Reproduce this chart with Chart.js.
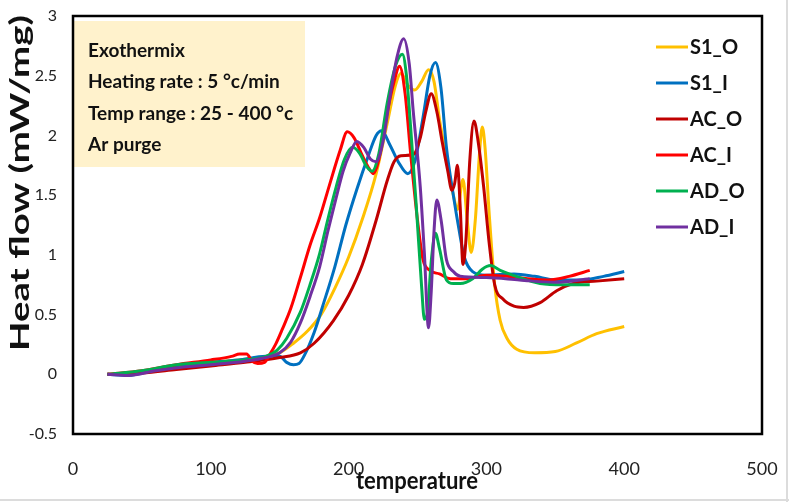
<!DOCTYPE html>
<html>
<head>
<meta charset="utf-8">
<script src="https://cdn.jsdelivr.net/npm/chart.js@4.4.1/dist/chart.umd.min.js"></script>
<style>
  html, body { margin: 0; padding: 0; background: #fff; }
  canvas { display: block; }
</style>
</head>
<body>
<canvas id="c" width="789" height="502"></canvas>
<script>
// ---------------- DATA ----------------
const seriesNames = ['S1_O', 'S1_I', 'AC_O', 'AC_I', 'AD_O', 'AD_I'];

const s1oT = [25,40,60,80,100,120,140,150,160,170,180,190,200,210,220,228,234,238,243,248,253,258,262,266,272,276,279,283,286,289,292,295,297,299,302,306,310,315,322,335,350,365,380,400];
const s1oV = [0,0.01,0.04,0.07,0.1,0.12,0.15,0.18,0.26,0.36,0.5,0.72,0.98,1.3,1.68,2.1,2.42,2.52,2.42,2.38,2.45,2.55,2.45,2.13,1.75,1.5,1.38,1.63,1.3,1.02,1.3,1.85,2.07,1.9,1.35,0.75,0.45,0.3,0.21,0.18,0.19,0.26,0.34,0.40];

const s1iT = [25,40,60,80,100,120,140,150,155,160,164,168,175,182,190,198,206,214,220,224,230,236,243,248,254,259,263,267,271,276,280,284,290,300,320,335,350,370,385,400];
const s1iV = [0,-0.01,0.04,0.08,0.1,0.12,0.15,0.15,0.1,0.08,0.09,0.16,0.35,0.6,0.9,1.25,1.55,1.82,2.0,2.04,1.92,1.78,1.68,1.78,2.15,2.5,2.61,2.4,1.9,1.5,1.22,0.98,0.86,0.83,0.84,0.82,0.79,0.79,0.82,0.86];

const acoT = [25,50,75,100,125,150,165,175,189,200,210,220,228,233,238,247,252,256,260,264,268,272,275,277,279,281,283,285,288,291,294,298,302,306,312,320,327,339,351,363,380,400];
const acoV = [0,0.01,0.04,0.07,0.1,0.14,0.18,0.26,0.45,0.66,0.92,1.29,1.62,1.78,1.83,1.84,1.98,2.2,2.35,2.2,1.94,1.7,1.54,1.6,1.75,1.4,0.92,1.1,1.8,2.12,1.95,1.57,1.1,0.75,0.63,0.57,0.56,0.6,0.7,0.76,0.78,0.8];

const aciT = [25,50,75,100,115,121,126,130,134,139,143,147,152,158,165,172,179,186,194,199,204,210,214,218,222,228,233,237,241,245,250,254,259,266,274,285,300,315,330,345,360,375];
const aciV = [0,0.03,0.08,0.12,0.15,0.17,0.17,0.11,0.09,0.1,0.17,0.25,0.38,0.55,0.81,1.08,1.31,1.58,1.88,2.03,1.98,1.83,1.74,1.68,1.8,2.19,2.45,2.58,2.35,1.85,1.29,0.96,0.87,0.84,0.8,0.8,0.83,0.82,0.8,0.79,0.82,0.87];

const adoT = [25,50,75,100,125,140,148,155,165,172,179,185,191,197,203,208,213,217,222,228,234,239,242,245,249,253,255,257,260,263,266,271,276,281,290,297,303,310,319,339,356,375];
const adoV = [0,0.03,0.08,0.1,0.12,0.15,0.2,0.3,0.52,0.75,1.01,1.3,1.57,1.8,1.9,1.85,1.74,1.7,1.85,2.27,2.58,2.68,2.5,2.07,1.43,0.73,0.46,0.5,0.95,1.18,1.05,0.79,0.76,0.76,0.8,0.88,0.91,0.87,0.83,0.76,0.75,0.75];

const adiT = [25,40,60,80,100,125,140,150,158,165,172,179,185,191,196,201,206,211,216,220,225,230,235,240,244,247,252,255,258,260,262,264,267,271,276,281,300,324,350,375];
const adiV = [0,-0.01,0.03,0.06,0.08,0.11,0.14,0.18,0.27,0.43,0.65,0.9,1.2,1.48,1.7,1.85,1.95,1.9,1.8,1.78,1.95,2.32,2.65,2.81,2.6,2.19,1.57,1.01,0.39,0.7,1.2,1.46,1.3,0.96,0.86,0.82,0.81,0.79,0.77,0.8];

const xTickValues = [0, 100, 200, 300, 400, 500];
const yTickValues = [-0.5, 0, 0.5, 1, 1.5, 2, 2.5, 3];
const yTickLabels = ['-0.5', '0', '0.5', '1', '1.5', '2', '2.5', '3'];
const xTitle = 'temperature';
const yTitle = 'Heat flow (mW/mg)';
const noteLines = ['Exothermix', 'Heating rate : 5 \u00B0c/min', 'Temp range : 25 - 400 \u00B0c', 'Ar purge'];

// ---------------- STYLE ----------------
const seriesColors = ['#FFC000', '#0070C0', '#C00000', '#FF0000', '#00B050', '#7030A0'];
const allT = [s1oT, s1iT, acoT, aciT, adoT, adiT];
const allV = [s1oV, s1iV, acoV, aciV, adoV, adiV];

const datasets = seriesNames.map((name, i) => ({
  label: name,
  data: allT[i].map((t, j) => ({ x: t, y: allV[i][j] })),
  borderColor: seriesColors[i],
  backgroundColor: seriesColors[i],
  borderWidth: 3,
  pointRadius: 0,
  fill: false,
  cubicInterpolationMode: 'monotone',
  order: seriesNames.length - i
}));

function drawStretched(ctx, text, x, y, size, weight, family, targetWidth) {
  ctx.font = weight + ' ' + size + 'px ' + family;
  const w = ctx.measureText(text).width;
  ctx.save();
  ctx.translate(x, y);
  ctx.scale(targetWidth / w, 1);
  ctx.fillText(text, 0, 0);
  ctx.restore();
}

const decor = {
  id: 'decor',
  beforeDatasetsDraw(chart) {
    const ctx = chart.ctx;
    ctx.save();
    ctx.fillStyle = '#FFF2CC';
    ctx.fillRect(74, 21, 231, 146);
    ctx.fillStyle = '#111';
    ctx.textAlign = 'left';
    ctx.textBaseline = 'alphabetic';
    ctx.font = 'bold 19px Lato';
    const baselines = [57, 88, 120, 151];
    noteLines.forEach((t, i) => ctx.fillText(t, 88, baselines[i]));
    ctx.restore();
  },
  afterDraw(chart) {
    const ctx = chart.ctx;
    const a = chart.chartArea;
    ctx.save();
    ctx.strokeStyle = '#000';
    ctx.lineWidth = 2.5;
    ctx.strokeRect(a.left, a.top, a.right - a.left, a.bottom - a.top);
    ctx.font = 'bold 20px Lato';
    ctx.textAlign = 'left';
    ctx.textBaseline = 'middle';
    seriesNames.forEach((n, i) => {
      const y = 47 + i * 36;
      ctx.strokeStyle = seriesColors[i];
      ctx.lineWidth = 3;
      ctx.beginPath();
      ctx.moveTo(656, y);
      ctx.lineTo(688, y);
      ctx.stroke();
      ctx.fillStyle = '#111';
      ctx.fillText(n, 690, y + 1);
    });
    ctx.fillStyle = '#111';
    ctx.textAlign = 'center';
    ctx.textBaseline = 'alphabetic';
    drawStretched(ctx, xTitle, 417, 489, 24, 'bold', 'Lato', 122);
    ctx.save();
    ctx.translate(29, 183);
    ctx.rotate(-Math.PI / 2);
    drawStretched(ctx, yTitle, 0, 0, 27, 'bold', 'Lato', 336);
    ctx.restore();
    ctx.strokeStyle = '#dcdcdc';
    ctx.lineWidth = 2;
    ctx.beginPath();
    ctx.moveTo(0, 500); ctx.lineTo(789, 500);
    ctx.moveTo(787, 0); ctx.lineTo(787, 502);
    ctx.stroke();
    ctx.restore();
  }
};

new Chart(document.getElementById('c'), {
  type: 'line',
  data: { datasets },
  options: {
    responsive: false,
    animation: false,
    devicePixelRatio: 1,
    layout: { padding: { top: 16, right: 27, left: 0, bottom: 0 } },
    plugins: { legend: { display: false }, tooltip: { enabled: false } },
    scales: {
      x: {
        type: 'linear',
        min: 0, max: 500,
        afterBuildTicks: s => { s.ticks = xTickValues.map(v => ({ value: v })); },
        afterFit: s => { s.height = 68; s.paddingLeft = 0; s.paddingRight = 0; },
        grid: { display: false, drawTicks: false },
        border: { display: false },
        ticks: { padding: 24, color: '#222', font: { family: 'Lato', size: 18 }, maxRotation: 0 }
      },
      y: {
        type: 'linear',
        min: -0.5, max: 3,
        afterBuildTicks: s => { s.ticks = yTickValues.map(v => ({ value: v })); },
        afterFit: s => { s.width = 73; s.paddingTop = 0; s.paddingBottom = 0; },
        grid: { display: false, drawTicks: false },
        border: { display: false },
        ticks: {
          padding: 16, color: '#222', font: { family: 'Lato', size: 16 },
          callback: (v) => { const k = yTickValues.indexOf(v); return k >= 0 ? yTickLabels[k] : ''; }
        }
      }
    }
  },
  plugins: [decor]
});
</script>
</body>
</html>
